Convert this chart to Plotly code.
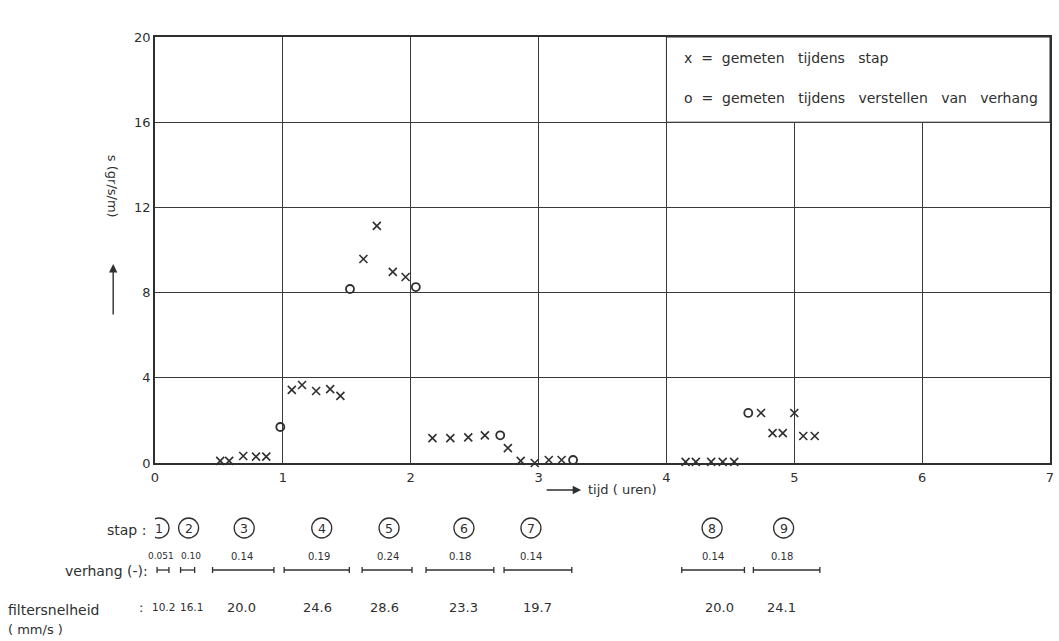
import plotly.graph_objects as go

# ---- data ----
t_stap = [0.51, 0.58, 0.69, 0.79, 0.87,
          1.07, 1.15, 1.26, 1.37, 1.45,
          1.63, 1.735, 1.86, 1.96,
          2.17, 2.31, 2.45, 2.58, 2.76, 2.86, 2.97, 3.08, 3.18,
          4.15, 4.23, 4.35, 4.44, 4.53,
          4.74, 4.83, 4.91, 5.00, 5.07, 5.16]
s_stap = [0.10, 0.10, 0.33, 0.30, 0.30,
          3.43, 3.66, 3.38, 3.47, 3.15,
          9.58, 11.13, 8.97, 8.73,
          1.17, 1.17, 1.20, 1.30, 0.70, 0.10, 0.00, 0.14, 0.14,
          0.05, 0.05, 0.05, 0.05, 0.05,
          2.35, 1.40, 1.40, 2.35, 1.27, 1.27]
t_verstel = [0.98, 1.525, 2.04, 2.70, 3.27, 4.64]
s_verstel = [1.69, 8.17, 8.26, 1.30, 0.14, 2.35]

stap_labels = ["1", "2", "3", "4", "5", "6", "7", "8", "9"]
stap_start = [0.016, 0.20, 0.45, 1.01, 1.62, 2.12, 2.73, 4.12, 4.68]
stap_end = [0.109, 0.31, 0.93, 1.52, 2.01, 2.65, 3.26, 4.61, 5.20]
verhang = ["0.051", "0.10", "0.14", "0.19", "0.24", "0.18", "0.14", "0.14", "0.18"]
filtersnelheid = ["10.2", "16.1", "20.0", "24.6", "28.6", "23.3", "19.7", "20.0", "24.1"]

x_ticks = [0, 1, 2, 3, 4, 5, 6, 7]
y_ticks = [0, 4, 8, 12, 16, 20]

# ---- layout helpers ----
W, H = 1059, 641
L, R, T, B = 155, 5, 37, 178
PH = H - T - B
PW = W - L - R
INK = "#2f2f2f"
FONT = "DejaVu Sans"

# small pixel nudges of the hand-lettered labels (style only)
circ_shift = [-4, 1, 1, 5, 2, 4, -7, -1, -3]
verh_shift = [-2, 3, -1, 2, 1, 0, -7, 0, -5]
val_shift = [1, 4, -2, 1, -3, 4, 0, 6, -5]
Y_CIRC, Y_VERH, Y_BAR, Y_VAL = 528, 556, 570, 607


def py(px):
    return (H - B - px) / PH


def pxp(px):
    return (px - L) / PW


fig = go.Figure()
fig.add_trace(go.Scatter(x=t_stap, y=s_stap, mode="markers",
                         marker=dict(symbol="x-thin", size=8, line=dict(width=1.6, color=INK), color=INK),
                         cliponaxis=False, showlegend=False))
fig.add_trace(go.Scatter(x=t_verstel, y=s_verstel, mode="markers",
                         marker=dict(symbol="circle-open", size=8, line=dict(width=1.8, color=INK), color=INK),
                         cliponaxis=False, showlegend=False))

shapes = []
ann = []


def txt(x, y, text, size=13, xref="paper", xanchor="center", **kw):
    d = dict(xref=xref, yref="paper", x=x, y=y, text=text, showarrow=False,
             xanchor=xanchor, yanchor="middle", font=dict(family=FONT, size=size, color=INK))
    d.update(kw)
    ann.append(d)


# legend box (white cell upper right)
shapes.append(dict(type="rect", xref="x", yref="y", x0=4, x1=7, y0=16, y1=20,
                   fillcolor="white", line=dict(color=INK, width=1), layer="above"))
txt(pxp(684), py(58), "x  =  gemeten   tijdens   stap", size=14, xanchor="left")
txt(pxp(684), py(98), "o  =  gemeten   tijdens   verstellen   van   verhang", size=14, xanchor="left")

# y-axis title and arrow
txt(pxp(113), py(186), "s (gr/s/m)", size=13, textangle=90)
ann.append(dict(xref="paper", yref="paper", x=pxp(113), y=py(264), ax=0, ay=52, text="",
                showarrow=True, arrowhead=2, arrowsize=1.2, arrowwidth=1.4, arrowcolor=INK))

# x-axis title and arrow
ann.append(dict(xref="paper", yref="paper", x=pxp(583), y=py(490), ax=-36, ay=0, text="",
                showarrow=True, arrowhead=2, arrowsize=1.2, arrowwidth=1.4, arrowcolor=INK))
txt(pxp(588), py(489), "tijd ( uren)", size=13, xanchor="left")

# row labels
txt(pxp(148), py(Y_CIRC + 2), "stap :", size=14, xanchor="right")
txt(pxp(150), py(Y_BAR + 1), "verhang (-):", size=14, xanchor="right")
txt(pxp(5), py(Y_VAL + 3), "filtersnelheid", size=14, xanchor="left")
txt(pxp(5), py(Y_VAL + 22), "( mm/s )", size=13, xanchor="left")
txt(pxp(141), py(Y_VAL), ":", size=13)

tick = 3 / PH
for i, lab in enumerate(stap_labels):
    xc = (stap_start[i] + stap_end[i]) / 2
    # circled step number
    shapes.append(dict(type="circle", xref="x", yref="paper", xsizemode="pixel", ysizemode="pixel",
                       xanchor=xc, yanchor=py(Y_CIRC), x0=-10 + circ_shift[i], x1=10 + circ_shift[i],
                       y0=-10, y1=10, line=dict(color=INK, width=1.3)))
    txt(xc, py(Y_CIRC), lab, size=12.5, xref="x", xshift=circ_shift[i])
    # verhang value and bar
    txt(xc, py(Y_VERH), verhang[i], size=10 if i > 1 else 9, xref="x", xshift=verh_shift[i])
    yb = py(Y_BAR)
    shapes.append(dict(type="line", xref="x", yref="paper", x0=stap_start[i], x1=stap_end[i], y0=yb, y1=yb,
                       line=dict(color=INK, width=1.3)))
    for xe in (stap_start[i], stap_end[i]):
        shapes.append(dict(type="line", xref="x", yref="paper", x0=xe, x1=xe, y0=yb - tick, y1=yb + tick,
                           line=dict(color=INK, width=1.3)))
    # filter velocity
    txt(xc, py(Y_VAL), filtersnelheid[i], size=13 if i > 1 else 10.5, xref="x", xshift=val_shift[i])

fig.update_layout(
    width=W, height=H,
    margin=dict(l=L, r=R, t=T, b=B),
    paper_bgcolor="white", plot_bgcolor="white",
    shapes=shapes, annotations=ann,
    xaxis=dict(range=[0, 7], tickvals=x_ticks, ticktext=[str(v) for v in x_ticks],
               showgrid=True, gridcolor="#3a3a3a", gridwidth=1, zeroline=False,
               showline=True, linecolor=INK, linewidth=1.5, mirror=True, ticks="",
               tickfont=dict(family=FONT, size=13, color=INK), ticklabelstandoff=2),
    yaxis=dict(range=[0, 20], tickvals=y_ticks, ticktext=[str(v) for v in y_ticks],
               showgrid=True, gridcolor="#3a3a3a", gridwidth=1, zeroline=False,
               showline=True, linecolor=INK, linewidth=1.5, mirror=True, ticks="",
               tickfont=dict(family=FONT, size=13, color=INK)),
    showlegend=False,
)

fig.write_html("out.html")
